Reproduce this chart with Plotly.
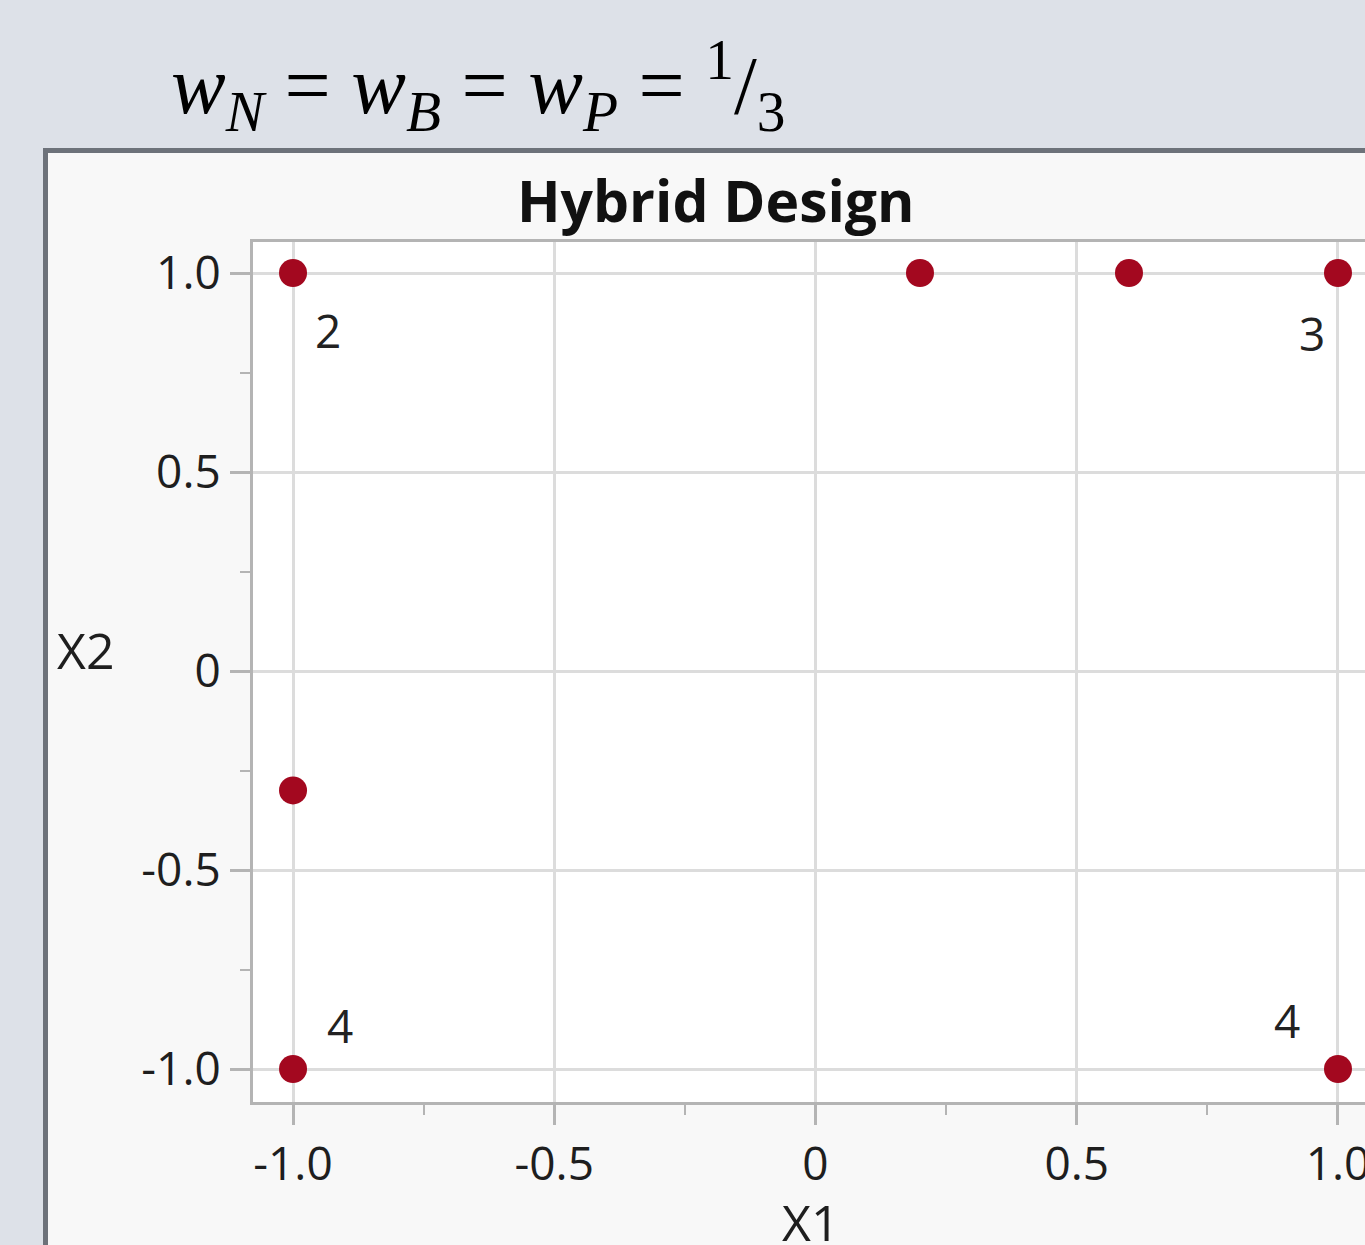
import plotly.graph_objects as go

# ---- data ----
x1_vals = [-1.0, 0.2, 0.6, 1.0, -1.0, -1.0, 1.0]
x2_vals = [1.0, 1.0, 1.0, 1.0, -0.3, -1.0, -1.0]

rep_x = [-1.0, 1.0, -1.0, 1.0]
rep_y = [1.0, 1.0, -1.0, -1.0]
rep_text = ["2", "3", "4", "4"]
rep_dx = [35, -26, 47, -51]
rep_dy = [-57, -60, 44, 49]

tick_vals = [-1.0, -0.5, 0.0, 0.5, 1.0]
tick_text = ["-1.0", "-0.5", "0", "0.5", "1.0"]

title_text = "Hybrid Design"
formula = ("<i>w</i><sub><i>N</i></sub> = <i>w</i><sub><i>B</i></sub> = "
           "<i>w</i><sub><i>P</i></sub> = <sup>1</sup>/<sub>3</sub>")

# ---- geometry ----
W, H = 1365, 1245
L, R, T, B = 253, 0, 242, 143
pw, ph = W - L - R, H - T - B


def px(xp):
    return (xp - L) / pw


def py(yp):
    return (H - B - yp) / ph


fig = go.Figure()
fig.add_trace(go.Scatter(
    x=x1_vals, y=x2_vals, mode="markers",
    marker=dict(size=28, color="#a3081f", line=dict(width=0)),
    cliponaxis=False, showlegend=False, hoverinfo="x+y"))

font_main = "Open Sans, Noto Sans, DejaVu Sans, sans-serif"
grid = "#dcdcdc"
axis_c = "#b4b4b4"

common = dict(
    tickmode="array", tickvals=tick_vals, ticktext=tick_text,
    showgrid=True, gridcolor=grid, gridwidth=3,
    zeroline=False, automargin=False,
    showline=True, linecolor=axis_c, linewidth=3,
    ticks="outside", ticklen=20, tickwidth=3, tickcolor=axis_c,
    tickfont=dict(family=font_main, size=46, color="#1e1e1e"),
    ticklabeloverflow="allow",
    minor=dict(dtick=0.25, tick0=0, ticks="outside", ticklen=10,
               tickwidth=2, tickcolor=axis_c, showgrid=False),
    fixedrange=True,
)

fig.update_xaxes(range=[-1.0766, 1.0517], mirror=True, **common)
fig.update_yaxes(range=[-1.0829, 1.0779], mirror=False, **common)

shapes = [
    dict(type="rect", xref="paper", yref="paper",
         x0=px(45.5), x1=1.2, y0=-0.4, y1=py(150.5),
         line=dict(color="#6d727a", width=5), fillcolor="#f8f8f8",
         layer="below"),
    dict(type="rect", xref="paper", yref="paper",
         x0=0, x1=1.05, y0=0, y1=1, line=dict(width=0),
         fillcolor="#ffffff", layer="below"),
]

annotations = [
    dict(text=formula, xref="paper", yref="paper", x=px(478), y=py(85),
         xanchor="center", yanchor="middle", showarrow=False,
         font=dict(family="Liberation Serif, DejaVu Serif, serif",
                   size=82, color="#000000")),
    dict(text="<b>" + title_text + "</b>", xref="paper", yref="paper",
         x=px(716), y=py(200), xanchor="center", yanchor="middle",
         showarrow=False,
         font=dict(family=font_main, size=57, color="#111111")),
    dict(text="X2", xref="paper", yref="paper", x=px(85), y=py(650),
         xanchor="center", yanchor="middle",
         showarrow=False, font=dict(family=font_main, size=50, color="#1e1e1e")),
    dict(text="X1", xref="paper", yref="paper", x=px(810), y=py(1222),
         xanchor="center", yanchor="middle",
         showarrow=False, font=dict(family=font_main, size=50, color="#1e1e1e")),
]
for xv, yv, t, dx, dy in zip(rep_x, rep_y, rep_text, rep_dx, rep_dy):
    annotations.append(dict(text=t, x=xv, y=yv, xref="x", yref="y",
                            xshift=dx, yshift=dy, showarrow=False,
                            xanchor="center", yanchor="middle",
                            font=dict(family=font_main, size=46, color="#222222")))

fig.update_layout(
    width=W, height=H, autosize=False,
    margin=dict(l=L, r=R, t=T, b=B, pad=0, autoexpand=False),
    paper_bgcolor="#dde1e8", plot_bgcolor="#ffffff",
    shapes=shapes, annotations=annotations, showlegend=False,
)

fig.write_html("out.html", config={"displayModeBar": False},
               post_script="document.body.style.margin='0';"
                           "document.body.style.overflow='hidden';"
                           "document.body.style.background='#dde1e8';")
